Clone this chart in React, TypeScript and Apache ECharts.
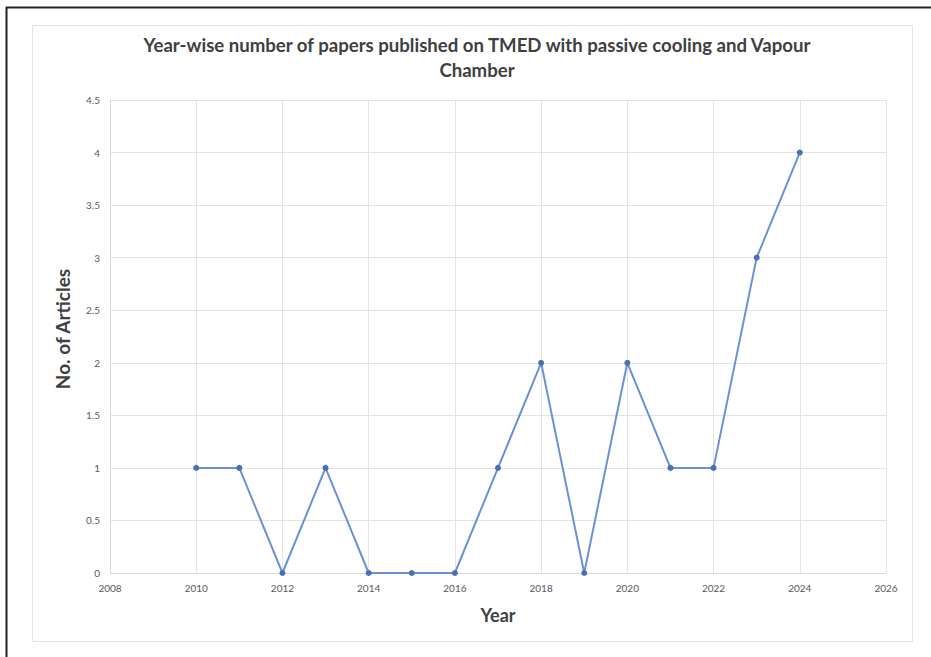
import React, { useEffect, useRef } from "react";
import * as echarts from "echarts";

const years = [2010, 2011, 2012, 2013, 2014, 2015, 2016, 2017, 2018, 2019, 2020, 2021, 2022, 2023, 2024];
const articles = [1, 1, 0, 1, 0, 0, 0, 1, 2, 0, 2, 1, 1, 3, 4];
const titleText = "Year-wise number of papers published on TMED with passive cooling and Vapour\nChamber";
const xName = "Year";
const yName = "No. of Articles";

export default function App() {
  const ref = useRef<HTMLDivElement>(null);
  useEffect(() => {
    if (!ref.current) return;
    const chart = echarts.init(ref.current, undefined, { renderer: "svg" });
    const font = "Lato, 'Open Sans', sans-serif";
    chart.setOption({
      animation: false,
      backgroundColor: "#ffffff",
      title: {
        text: titleText,
        left: 472,
        textAlign: "center",
        top: 27,
        textStyle: { fontFamily: font, fontSize: 18.6, fontWeight: "bold", color: "#404040", lineHeight: 25 },
      },
      graphic: [
        { type: "line", shape: { x1: 6.5, y1: 7, x2: 6.5, y2: 657 }, style: { stroke: "#222", lineWidth: 2 } },
        { type: "line", shape: { x1: 6, y1: 7.5, x2: 931, y2: 7.5 }, style: { stroke: "#222", lineWidth: 2 } },
        { type: "rect", shape: { x: 32.5, y: 25.5, width: 880, height: 616 }, style: { fill: "none", stroke: "#e3e3e3", lineWidth: 1 } },
      ],
      grid: { left: 110, right: 45, top: 100, bottom: 84 },
      xAxis: {
        type: "value",
        min: 2008,
        max: 2026,
        interval: 2,
        name: xName,
        nameLocation: "middle",
        nameGap: 33,
        nameTextStyle: { fontFamily: font, fontSize: 18, fontWeight: "bold", color: "#404040" },
        axisLine: { show: true, lineStyle: { color: "#d9d9d9" } },
        axisTick: { show: false },
        axisLabel: { fontFamily: font, fontSize: 10, color: "#595959", margin: 10, formatter: (v: number) => String(v) },
        splitLine: { show: true, lineStyle: { color: "#e3e3e3" } },
      },
      yAxis: {
        type: "value",
        min: 0,
        max: 4.5,
        interval: 0.5,
        name: yName,
        nameLocation: "middle",
        nameGap: 38,
        nameTextStyle: { fontFamily: font, fontSize: 19, fontWeight: "bold", color: "#404040", padding: [0, 0, 0, 15] },
        axisLine: { show: true, lineStyle: { color: "#d9d9d9" } },
        axisTick: { show: false },
        axisLabel: { fontFamily: font, fontSize: 10, color: "#595959", margin: 10 },
        splitLine: { show: true, lineStyle: { color: "#e3e3e3" } },
      },
      series: [
        {
          type: "line",
          data: years.map((y, i) => [y, articles[i]]),
          symbol: "circle",
          symbolSize: 6,
          lineStyle: { color: "#6d91d0", width: 2 },
          itemStyle: { color: "#4a6fb5" },
        },
      ],
    });
    return () => chart.dispose();
  }, []);
  return <div ref={ref} style={{ position: "absolute", left: 0, top: 0, width: 931, height: 657 }} />;
}
